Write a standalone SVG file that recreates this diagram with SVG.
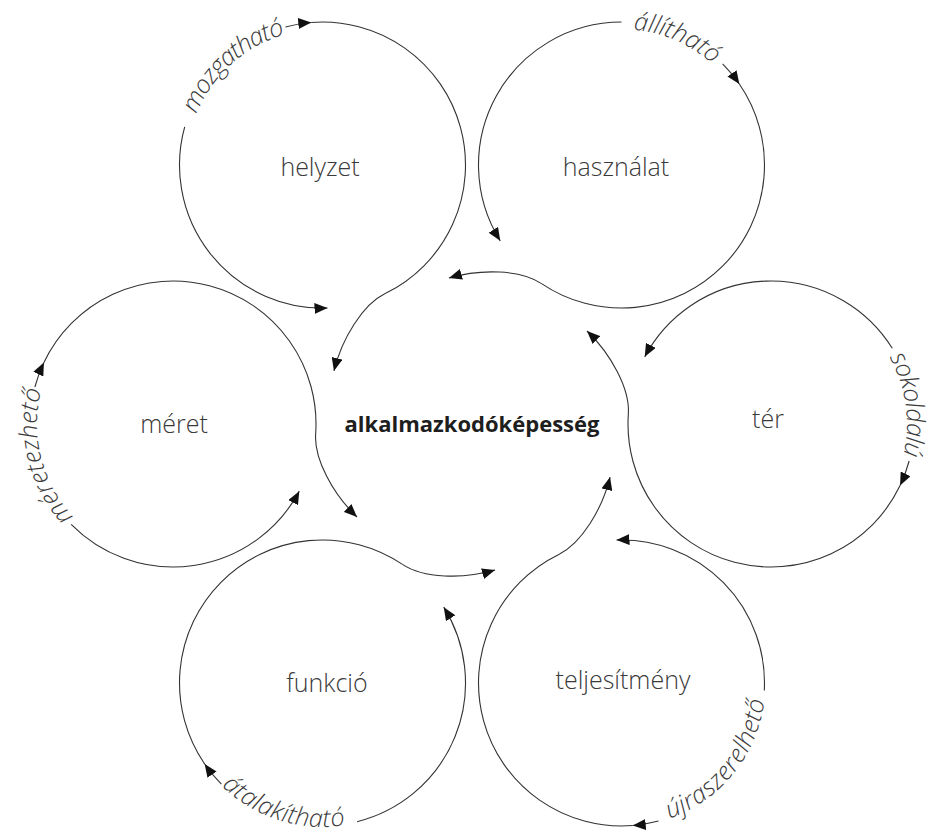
<svg xmlns="http://www.w3.org/2000/svg" width="940" height="834" viewBox="0 0 940 834">
  <style>
    .line { fill: none; stroke: #333; stroke-width: 1.1; }
    .arr { marker-end: url(#arrow); }
    .title { font-family: "Open Sans", "Noto Sans", "DejaVu Sans", sans-serif; font-weight: 300; font-size: 25px; fill: #3a3a3a; text-anchor: middle; }
    .label { font-family: "Open Sans", "Noto Sans", "DejaVu Sans", sans-serif; font-weight: 300; font-style: italic; font-size: 25px; fill: #3a3a3a; }
    .core { font-family: "Open Sans", "Noto Sans", "DejaVu Sans", sans-serif; font-weight: 700; font-size: 22px; fill: #1e1e1e; text-anchor: middle; }
  </style>
  <defs>
    <marker id="arrow" viewBox="0 0 13 11" refX="13" refY="5.5" markerWidth="13" markerHeight="11" markerUnits="userSpaceOnUse" orient="auto">
      <path d="M0,0 L13,5.5 L0,11 Z" fill="#111"/>
    </marker>
    <!-- shared loop geometry, drawn for the left-hand circle (centre -299,0 ; r 143) and rotated into place -->
    <g id="loop">
      <path class="line arr" d="M-437.13 -37.01 A143 143 0 0 1 -428.07 -61.56"/>
      <path class="line" d="M-428.07 -61.56 A143 143 0 0 1 -156.35 9.98"/>
    </g>
    <path id="link" class="line arr" d="M-156.35 9.98 C-158.1 34.9 -139 70 -115 93"/>
    <!-- baselines for the curved labels -->
    <path id="tp-meret" d="M-398.46 92.75 A136 136 0 0 1 -430.67 -34.05"/>
    <path id="tp-helyzet" d="M-406.17 83.73 A136 136 0 0 1 -430.96 -32.90"/>
    <path id="tp-hasznalat" d="M-422.26 57.48 A136 136 0 0 1 -432.03 -28.28"/>
    <path id="tp-ter" d="M-417.37 66.97 A136 136 0 0 1 -431.35 -31.29"/>
    <path id="tp-teljesitmeny" d="M-440.59 -26.24 A144 144 0 0 0 -385.66 115.00"/>
    <path id="tp-funkcio" d="M-438.48 -35.81 A144 144 0 0 0 -410.91 90.62"/>
  </defs>

  <rect width="940" height="834" fill="#fff"/>

  <!-- centre -->
  <g id="node-center">
    <text class="core" x="472" y="432">alkalmazkodóképesség</text>
  </g>

  <g id="node-meret">
    <g transform="translate(472 424) rotate(0)">
      <use href="#loop"/>
      <path class="line arr" d="M-400.84 100.39 A143 143 0 0 0 -172.74 67.13"/>
      <text class="label"><textPath href="#tp-meret" textLength="136.5" lengthAdjust="spacing">méretezhető</textPath></text>
    </g>
    <text class="title" x="174" y="433">méret</text>
  </g>

  <g id="node-helyzet">
    <g transform="translate(472 424) rotate(60)">
      <use href="#loop"/>
      <path class="line arr" d="M-400.99 100.23 A143 143 0 0 0 -172.74 67.13"/>
      <text class="label"><textPath href="#tp-helyzet" textLength="123.4" lengthAdjust="spacing">mozgatható</textPath></text>
    </g>
    <text class="title" x="320" y="176">helyzet</text>
  </g>

  <g id="node-hasznalat">
    <g transform="translate(472 424) rotate(120)">
      <use href="#loop"/>
      <path class="line arr" d="M-422.84 71.5 A143 143 0 0 0 -172.74 67.13"/>
      <text class="label"><textPath href="#tp-hasznalat" textLength="87.8" lengthAdjust="spacing">állítható</textPath></text>
    </g>
    <text class="title" x="616" y="176">használat</text>
  </g>

  <g id="node-ter">
    <g transform="translate(472 424) rotate(180)">
      <use href="#loop"/>
      <path class="line arr" d="M-420.27 75.78 A143 143 0 0 0 -172.74 67.13"/>
      <text class="label"><textPath href="#tp-ter" textLength="101.6" lengthAdjust="spacing">sokoldalú</textPath></text>
    </g>
    <text class="title" x="768" y="428">tér</text>
  </g>

  <g id="node-teljesitmeny">
    <g transform="translate(472 424) rotate(240)">
      <use href="#loop"/>
      <path class="line arr" d="M-376.88 119.93 A143 143 0 0 0 -172.74 67.13"/>
      <text class="label"><textPath href="#tp-teljesitmeny" textLength="159.6" lengthAdjust="spacing">újraszerelhető</textPath></text>
    </g>
    <text class="title" x="623" y="689">teljesítmény</text>
  </g>

  <g id="node-funkcio">
    <g transform="translate(472 424) rotate(300)">
      <use href="#loop"/>
      <path class="line arr" d="M-401.87 99.34 A143 143 0 0 0 -172.74 67.13"/>
      <text class="label"><textPath href="#tp-funkcio" textLength="134.2" lengthAdjust="spacing">átalakítható</textPath></text>
    </g>
    <text class="title" x="327" y="692">funkció</text>
  </g>

  <!-- links from each circle into the centre -->
  <g id="connectors">
    <use href="#link" transform="translate(472 424) rotate(0)"/>
    <use href="#link" transform="translate(472 424) rotate(60)"/>
    <use href="#link" transform="translate(472 424) rotate(120)"/>
    <use href="#link" transform="translate(472 424) rotate(180)"/>
    <use href="#link" transform="translate(472 424) rotate(240)"/>
    <use href="#link" transform="translate(472 424) rotate(300)"/>
  </g>
</svg>
